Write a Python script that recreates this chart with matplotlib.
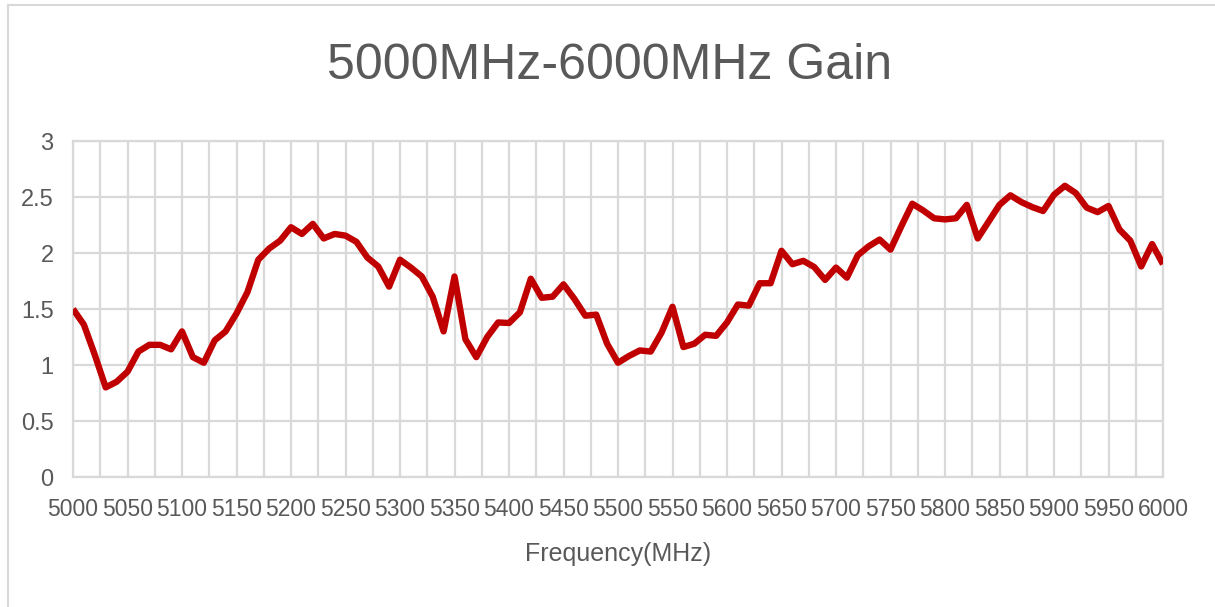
import matplotlib
matplotlib.use("Agg")
import matplotlib.pyplot as plt
from matplotlib import font_manager
from matplotlib.lines import Line2D
import numpy as np

freq_start = 5000
freq_step = 10
gain = [1.50, 1.36, 1.09, 0.80, 0.85, 0.94, 1.12, 1.18, 1.18, 1.14,
        1.30, 1.07, 1.02, 1.22, 1.30, 1.46, 1.65, 1.94, 2.04, 2.11,
        2.23, 2.17, 2.26, 2.13, 2.17, 2.155, 2.10, 1.96, 1.88, 1.70,
        1.94, 1.87, 1.79, 1.61, 1.30, 1.79, 1.23, 1.07, 1.25, 1.38,
        1.375, 1.47, 1.77, 1.60, 1.61, 1.72, 1.59, 1.44, 1.45, 1.19,
        1.02, 1.08, 1.13, 1.12, 1.29, 1.52, 1.16, 1.19, 1.27, 1.26,
        1.38, 1.54, 1.53, 1.73, 1.73, 2.02, 1.90, 1.93, 1.875, 1.76,
        1.87, 1.78, 1.98, 2.06, 2.12, 2.03, 2.24, 2.44, 2.38, 2.31,
        2.30, 2.31, 2.43, 2.13, 2.28, 2.43, 2.515, 2.455, 2.41, 2.375,
        2.52, 2.60, 2.535, 2.405, 2.365, 2.42, 2.21, 2.11, 1.88, 2.08,
        1.90]
freq = [freq_start + i * freq_step for i in range(len(gain))]

x_labels = [str(v) for v in range(5000, 6001, 50)]
y_labels = ["0", "0.5", "1", "1.5", "2", "2.5", "3"]
title = "5000MHz-6000MHz Gain"
xlabel = "Frequency(MHz)"

available = {f.name for f in font_manager.fontManager.ttflist}
base_font = "Liberation Sans" if "Liberation Sans" in available else "DejaVu Sans"
plt.rcParams['font.family'] = [base_font, 'DejaVu Sans']

W, H = 1215, 607
fig = plt.figure(figsize=(W / 100, H / 100), dpi=100)
fig.patch.set_facecolor("white")

ax = fig.add_axes([73 / W, 1 - 477 / H, (1163 - 73) / W, (477 - 141) / H])
grid_c = "#d9d9d9"
txt_c = "#595959"

ax.plot(freq, gain, color="#C00000", lw=4.6, solid_joinstyle="round", solid_capstyle="butt", zorder=3)

ax.set_xlim(5000, 6000)
ax.set_ylim(0, 3)
ax.set_xticks([int(s) for s in x_labels])
ax.set_xticklabels(x_labels)
ax.set_xticks(np.arange(5000, 6001, 25), minor=True)
ax.set_yticks([float(s) for s in y_labels])
ax.set_yticklabels(y_labels)
ax.grid(True, which="both", axis="x", color=grid_c, lw=1.6)
ax.grid(True, which="major", axis="y", color=grid_c, lw=1.6)
ax.set_axisbelow(True)
for s in ax.spines.values():
    s.set_color(grid_c)
    s.set_linewidth(1.6)
ax.tick_params(which="both", length=0)
ax.tick_params(axis="x", labelsize=16.5, labelcolor=txt_c, pad=15)
ax.tick_params(axis="y", labelsize=17, labelcolor=txt_c, pad=14)

ax.set_xlabel(xlabel, fontsize=18, color=txt_c, labelpad=15)

fig.text(610 / W, 1 - 66 / H, title, ha="center", va="center",
         fontsize=36, color=txt_c)

# chart area border
fig.add_artist(Line2D([8 / W, 8 / W], [1 - 5 / H, 0], transform=fig.transFigure, color=grid_c, lw=1.5))
fig.add_artist(Line2D([8 / W, 1], [1 - 5 / H, 1 - 5 / H], transform=fig.transFigure, color=grid_c, lw=1.5))

fig.savefig("out.png", dpi=100, facecolor="white")
